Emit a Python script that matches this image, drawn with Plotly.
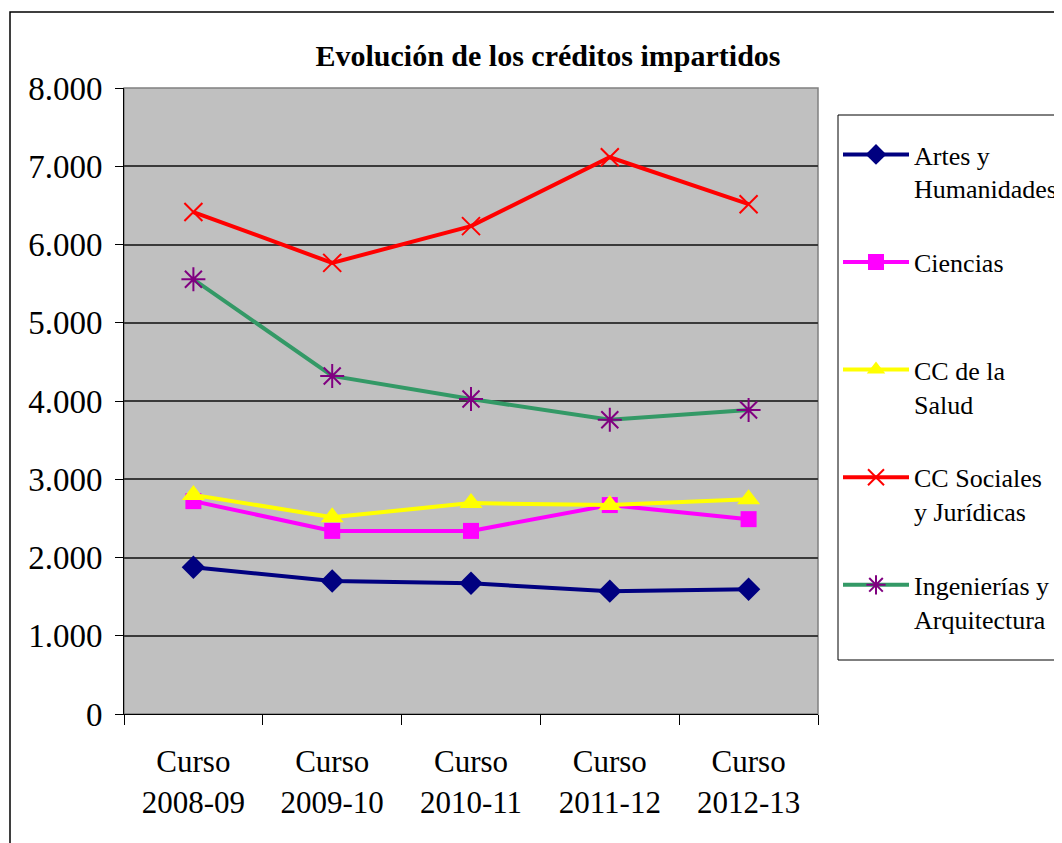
import plotly.graph_objects as go

cursos = ["Curso<br>2008-09", "Curso<br>2009-10", "Curso<br>2010-11", "Curso<br>2011-12", "Curso<br>2012-13"]
artes = [1875, 1700, 1670, 1570, 1595]
ciencias = [2720, 2340, 2340, 2670, 2490]
salud = [2800, 2515, 2695, 2670, 2745]
sociales = [6415, 5765, 6235, 7115, 6515]
ingenierias = [5555, 4320, 4025, 3760, 3885]

names = ["Artes y<br>Humanidades", "Ciencias<br>&nbsp;", "CC de la<br>Salud", "CC Sociales<br>y Jurídicas", "Ingenierías y<br>Arquitectura"]

FONT = "Liberation Serif"
fig = go.Figure()

fig.add_trace(go.Scatter(x=cursos, y=artes, name=names[0], mode="lines+markers", legendgroup="a",
                         line=dict(color="#000080", width=4),
                         marker=dict(symbol="diamond", size=18, color="#000080")))
fig.add_trace(go.Scatter(x=cursos, y=ciencias, name=names[1], mode="lines+markers", legendgroup="b",
                         line=dict(color="#FF00FF", width=4),
                         marker=dict(symbol="square", size=16, color="#FF00FF")))
fig.add_trace(go.Scatter(x=cursos, y=salud, name=names[2], mode="lines+markers", legendgroup="c",
                         line=dict(color="#FFFF00", width=4),
                         marker=dict(symbol="triangle-up", size=20, color="#FFFF00")))
fig.add_trace(go.Scatter(x=cursos, y=sociales, name=names[3], mode="lines+markers", legendgroup="d",
                         line=dict(color="#FF0000", width=4),
                         marker=dict(symbol="x-thin-open", size=18, color="#FF0000",
                                     line=dict(color="#FF0000", width=2))))
fig.add_trace(go.Scatter(x=cursos, y=ingenierias, name=names[4], mode="lines+markers", legendgroup="e",
                         line=dict(color="#339966", width=4),
                         marker=dict(symbol="asterisk-open", size=20, color="#800080",
                                     line=dict(color="#800080", width=2))))

OFF = 8  # page body margin
W, H = 1062, 843
L, R, T, B = 124 - OFF, 818 - OFF, 88 - OFF, 714 - OFF
pw, ph = R - L, B - T

fig.update_layout(
    width=W, height=H,
    margin=dict(l=L, r=W - R, t=T, b=H - B, autoexpand=False),
    paper_bgcolor="white",
    plot_bgcolor="#C0C0C0",
    separators=",.",
    font=dict(family=FONT, color="black"),
    title=dict(text="<b>Evolución de los créditos impartidos</b>", x=(548 - OFF) / W, xanchor="center",
               y=1 - (55 - OFF) / H, yanchor="middle", font=dict(size=30, family=FONT)),
    showlegend=True,
    legend=dict(x=(838 - OFF - L) / pw, xanchor="left", y=(B - (131 - OFF)) / ph, yanchor="top",
                bgcolor="rgba(0,0,0,0)", borderwidth=0,
                font=dict(size=26, family=FONT), valign="top", tracegroupgap=37,
                itemwidth=66),
    xaxis=dict(type="category", tickson="boundaries", ticks="outside", ticklen=10, tickwidth=1,
               tickcolor="black", showline=True, linecolor="black", linewidth=1, mirror=False,
               showgrid=False, tickfont=dict(size=31, family=FONT), range=[-0.5, 4.5],
               ticklabelstandoff=20),
    yaxis=dict(range=[0, 8000], dtick=1000, tickformat=",d", ticks="outside", ticklen=8,
               tickcolor="black", showline=True, linecolor="black", linewidth=1,
               showgrid=True, gridcolor="#3a3a3a", gridwidth=1.5, zeroline=False,
               tickfont=dict(size=33, family=FONT), ticklabelstandoff=6),
)

# plot area gray border (top/right)
fig.add_shape(type="rect", xref="paper", yref="paper", x0=0, x1=1, y0=0, y1=1,
              line=dict(color="#808080", width=1.5), layer="below")
# outer chart border
fig.add_shape(type="rect", xref="paper", yref="paper",
              x0=(10 - OFF - L) / pw, x1=(W + 20 - L) / pw, y0=(B - (H + 20)) / ph, y1=(B - (12 - OFF)) / ph,
              line=dict(color="black", width=1.5))
# legend box
fig.add_shape(type="rect", xref="paper", yref="paper",
              x0=(838 - OFF - L) / pw, x1=(W + 20 - L) / pw, y0=(B - (660 - OFF)) / ph, y1=(B - (115 - OFF)) / ph,
              line=dict(color="black", width=1), fillcolor="white")

fig.write_html("out.html")
